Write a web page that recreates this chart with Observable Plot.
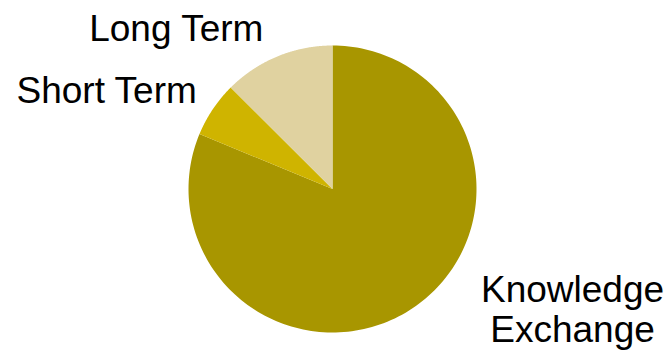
<!DOCTYPE html>
<html><head><meta charset="utf-8">
<script src="https://cdn.jsdelivr.net/npm/d3@7"></script>
<script src="https://cdn.jsdelivr.net/npm/@observablehq/plot@0.6"></script>
<style>body{margin:0;background:#fff}</style>
</head><body><div id="chart"></div>
<script>
const categories = ["Knowledge Exchange", "Short Term", "Long Term"];
const labels = ["Knowledge\nExchange", "Short Term", "Long Term"];
const values = [26, 2, 4];
const colors = ["#A89600", "#CFB400", "#E0D2A0"];

const pie = d3.pie().sort(null).value(d => d.value)(
  categories.map((c, i) => ({category: c, label: labels[i], value: values[i]}))
);
const slices = [];
pie.forEach(p => {
  slices.push({category: p.data.category, x: 0, y: 0});
  const n = 180;
  for (let k = 0; k <= n; k++) {
    const a = p.startAngle + (p.endAngle - p.startAngle) * k / n;
    slices.push({category: p.data.category, x: Math.sin(a), y: Math.cos(a)});
  }
});
const labelPts = pie.map(p => {
  const a = (p.startAngle + p.endAngle) / 2;
  return {category: p.data.category, label: p.data.label, x: 1.2 * Math.sin(a), y: 1.2 * Math.cos(a)};
});
const labelStyle = {
  "Knowledge Exchange": {textAnchor: "middle", dx: 144, dy: -23},
  "Short Term": {textAnchor: "end", dx: 8, dy: -3},
  "Long Term": {textAnchor: "end", dx: -3, dy: -2}
};

const chart = Plot.plot({
  width: 671,
  height: 353,
  marginLeft: 188,
  marginRight: 195,
  marginTop: 45,
  marginBottom: 21,
  x: {domain: [-1, 1], axis: null},
  y: {domain: [-1, 1], axis: null},
  color: {domain: categories, range: colors},
  style: {fontFamily: "'Liberation Sans', Arial, sans-serif", background: "#fff", overflow: "visible"},
  marks: [
    Plot.line(slices, {x: "x", y: "y", z: "category", fill: "category", stroke: "none"}),
    ...categories.map(c => Plot.text(labelPts.filter(d => d.category === c), {
      x: "x", y: "y", text: "label",
      fontSize: 37, lineHeight: 1.08, fill: "#000",
      ...labelStyle[c]
    }))
  ]
});
document.getElementById("chart").appendChild(chart);
</script>
</body></html>
